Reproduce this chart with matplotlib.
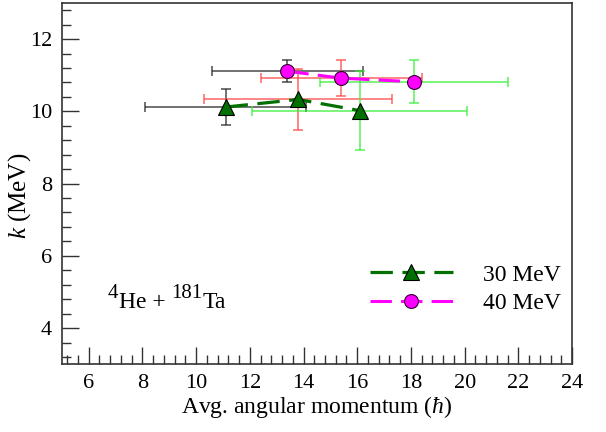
import matplotlib
matplotlib.use("Agg")
import matplotlib.pyplot as plt
from matplotlib.ticker import MultipleLocator
from matplotlib.transforms import offset_copy

plt.rcParams['font.family'] = ['Liberation Serif', 'DejaVu Serif']
plt.rcParams['mathtext.fontset'] = 'custom'
plt.rcParams['mathtext.rm'] = 'Liberation Serif'
plt.rcParams['mathtext.it'] = 'Liberation Serif:italic'

# 30 MeV data
l30 = [11.1, 13.8, 16.1]
k30 = [10.12, 10.33, 10.02]
l30_err = [3.0, 3.5, 4.0]
k30_err = [0.5, 0.85, 1.1]

# 40 MeV data
l40 = [13.4, 15.4, 18.1]
k40 = [11.11, 10.92, 10.82]
l40_err = [2.8, 3.0, 3.5]
k40_err = [0.3, 0.5, 0.6]

err_colors = ['#222222', '#ff4444', '#33ee33']

fig = plt.figure(figsize=(6.06, 4.32), dpi=100)
ax = fig.add_axes([0.102, 0.157, 0.842, 0.836])

for i in range(3):
    ax.errorbar(l30[i], k30[i], xerr=l30_err[i], yerr=k30_err[i], fmt='none',
                ecolor=err_colors[i], elinewidth=1.2, capsize=3.5, capthick=1.2,
                alpha=0.75, zorder=2)
    ax.errorbar(l40[i], k40[i], xerr=l40_err[i], yerr=k40_err[i], fmt='none',
                ecolor=err_colors[i], elinewidth=1.2, capsize=3.5, capthick=1.2,
                alpha=0.75, zorder=2)

ax.plot(l30, k30, color='#007000', ls=(0, (7, 3)), lw=2.3, marker='^',
        markersize=11, markerfacecolor='#007000', markeredgecolor='black',
        markeredgewidth=0.8, label='30 MeV', zorder=3)
ax.plot(l40, k40, color='#ff00ff', ls=(0, (7, 3)), lw=2.2, marker='o',
        markersize=10, markerfacecolor='#ff00ff', markeredgecolor='#330033',
        markeredgewidth=0.8, label='40 MeV', zorder=3)

ax.set_xlim(5, 24)
ax.set_ylim(3, 13)
ax.xaxis.set_major_locator(MultipleLocator(2))
ax.xaxis.set_minor_locator(MultipleLocator(0.4))
ax.yaxis.set_major_locator(MultipleLocator(2))
ax.yaxis.set_minor_locator(MultipleLocator(0.4))
ax.tick_params(which='both', direction='in', top=False, right=False,
               color='#333333', width=1)
ax.tick_params(which='major', length=12, labelsize=16, pad=7)
ax.tick_params(which='minor', length=6.5)
ax.set_xticks(range(6, 25, 2))
ax.set_yticks(range(4, 13, 2))
for s in ax.spines.values():
    s.set_color('#333333')
    s.set_linewidth(1.2)

ax.set_xlabel(r'Avg. angular momentum ($\hbar$)', fontsize=17, labelpad=1)
ax.set_ylabel(r'$k$ (MeV)', fontsize=18)
ax.yaxis.set_label_coords(-0.056, 0.465)

# reaction label with large superscripts
fig.canvas.draw()
renderer = fig.canvas.get_renderer()
pieces = [('4', True), ('He + ', False), ('181', True), ('Ta', False)]
trans = ax.transData
x0, y0 = 6.72, 4.56
dx = 0
for s, sup in pieces:
    t = ax.text(x0, y0, s, fontsize=15 if sup else 17, va='baseline',
                transform=offset_copy(trans, fig=fig, x=dx, y=7 if sup else 0,
                                      units='points'))
    w = t.get_window_extent(renderer).width
    dx += w * 72 / fig.dpi

ax.legend(loc='center left', bbox_to_anchor=(0.604, 0.208), frameon=False,
          fontsize=17, handlelength=3.5, handletextpad=1.3, labelspacing=0.3,
          borderpad=0, borderaxespad=0)

fig.savefig('out.png', dpi=100)
